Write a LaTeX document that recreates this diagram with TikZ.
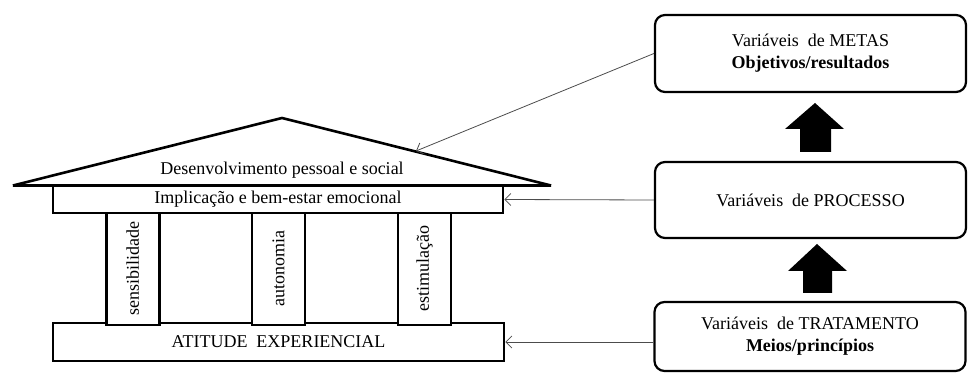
\documentclass[tikz,border=0pt]{standalone}
\usepackage{fontspec}
\setmainfont{Liberation Serif}
\usetikzlibrary{arrows.meta}
\begin{document}
\begin{tikzpicture}[x=1pt,y=-1pt,
  housebox/.style={draw, line width=2.6pt, fill=white, inner sep=0pt},
  pillarbox/.style={housebox, minimum width=53pt, minimum height=112pt},
  varbox/.style={draw, line width=2.2pt, rounded corners=10pt, minimum width=311pt, align=center, inner sep=0pt},
  conn/.style={draw=black!70, line width=0.8pt, -{Straight Barb[length=6pt,width=12pt]}},
  blockarrow/.style={fill=black},
  lbl/.style={font=\fontsize{18}{22}\selectfont}
]
\useasboundingbox (0,0) rectangle (970,374);
% roof
\draw[line width=2.6pt, line join=bevel] (13,185.5) -- (282,118) -- (551,185.5) -- cycle;
\node[lbl] (roof) at (282,170) {Desenvolvimento pessoal e social};
\coordinate (roofpt) at (416,151);
% beams
\node[housebox, lbl, minimum width=450pt, minimum height=27pt] (impl) at (278,199.5) {Implicação e bem-estar emocional};
\node[housebox, lbl, minimum width=451pt, minimum height=38pt] (ati) at (278.5,342) {ATITUDE\hspace{0.5em}EXPERIENCIAL};
% pillars
\node[pillarbox] (p1) at (132.75,269) {};
\node[pillarbox] (p2) at (278.5,269) {};
\node[pillarbox] (p3) at (424.5,269) {};
\node[lbl, rotate=90] (t1) at (p1) {sensibilidade};
\node[lbl, rotate=90] (t2) at (p2) {autonomia};
\node[lbl, rotate=90] (t3) at (p3) {estimulação};
% right boxes
\node[varbox, lbl, minimum height=77pt] (metas) at (810.5,53.5) {Variáveis\ \ de METAS\\\textbf{Objetivos/resultados}};
\node[varbox, lbl, minimum height=76pt] (proc) at (810.5,200) {Variáveis\ \ de PROCESSO};
\node[varbox, lbl, minimum height=69pt] (trat) at (810,336.5) {Variáveis\ \ de TRATAMENTO\\\textbf{Meios/princípios}};
% block arrows
\fill[blockarrow] (815,103) -- (844,129) -- (831,129) -- (831,152) -- (800,152) -- (800,129) -- (785,129) -- cycle;
\fill[blockarrow] (817,244) -- (847,271) -- (832,271) -- (832,293) -- (803,293) -- (803,271) -- (788,271) -- cycle;
% connectors
\draw[conn] (metas.west) -- (roofpt);
\draw[conn] (proc.west) -- (impl.east);
\draw[conn] (ati.east -| trat.west) -- (ati.east);
\end{tikzpicture}
\end{document}
